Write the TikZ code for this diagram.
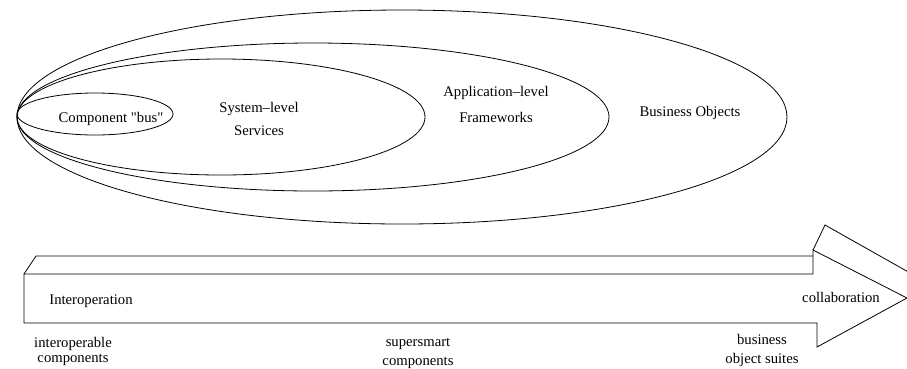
\documentclass[tikz,border=0pt]{standalone}
\usepackage{fontspec}
\setmainfont{Liberation Serif}
\begin{document}
\begin{tikzpicture}[x=1pt,y=-1pt,
	every node/.style={font=\fontsize{14.7}{17}\selectfont,inner sep=0pt,align=center},
	ring/.style={draw=black,line width=0.8pt},
	band/.style={draw=black,line width=0.8pt,fill=white,line join=miter}]
	\clip (0,0) rectangle (907,368);
	
	% nested scopes, all touching at the left
	\draw[ring] (402,117) ellipse [x radius=385,y radius=107];
	\draw[ring] (313,117) ellipse [x radius=296,y radius=74];
	\draw[ring] (221,117) ellipse [x radius=204,y radius=58];
	\draw[ring] (95,114) ellipse [x radius=78,y radius=21];
	
	\node (bus) at (111,119) {Component \textquotedbl bus\textquotedbl};
	\node (sys) at (259,119) {System--level\\[6pt]Services};
	\node (app) at (496,104) {Application--level\\[9pt]Frameworks};
	\node (bo) at (690,113) {Business Objects};
	
	% the flat arrow, back edges first
	\draw[band,fill=none] (24,274) -- (36,256) -- (813,256);
	\draw[band,fill=none] (813,250) -- (825,225) -- (919,278);
	\draw[band] (24,274) -- (813,274) -- (813,250) -- (907,298) -- (817,347) -- (817,323) -- (24,323) -- cycle;
	
	\node (inter) at (91,301) {Interoperation};
	\node (collab) at (841,297) {collaboration};
	
	\node (ic) at (73,351) {interoperable\\[-2pt]components};
	\node (sc) at (418,353) {supersmart\\[2pt]components};
	\node (bos) at (762,350) {business\\[2pt]object suites};
\end{tikzpicture}
\end{document}
